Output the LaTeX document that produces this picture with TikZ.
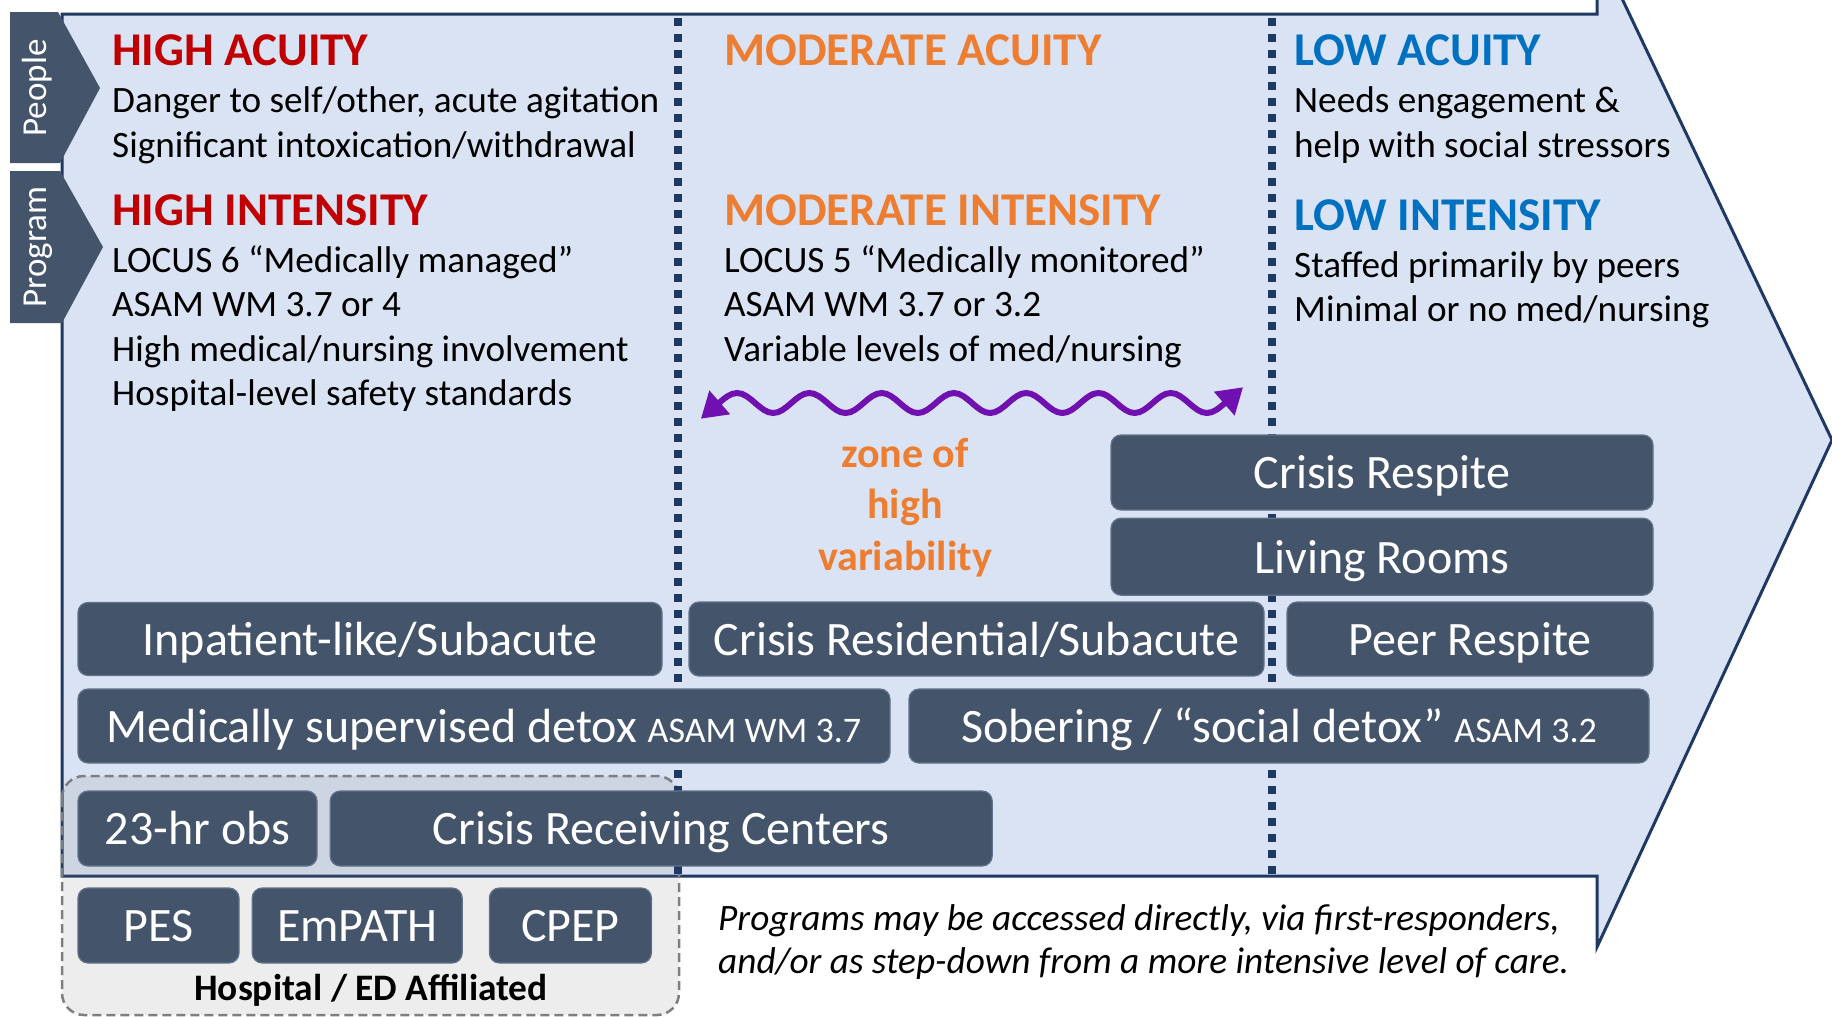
\documentclass[tikz,border=0pt]{standalone}
\usepackage{fontspec}
\setmainfont{Carlito}
\usepackage{tikz}
\usetikzlibrary{arrows.meta,positioning}
\definecolor{cBody}{HTML}{DAE3F3}
\definecolor{cNavy}{HTML}{203864}
\definecolor{cSlate}{HTML}{44546A}
\definecolor{cSlateEdge}{HTML}{62728A}
\definecolor{cHigh}{HTML}{C00000}
\definecolor{cMod}{HTML}{ED7D31}
\definecolor{cLow}{HTML}{0070C0}
\definecolor{cWave}{HTML}{7010B0}
\definecolor{cHosp}{HTML}{7F7F7F}
\newcommand{\fs}[2]{\fontsize{#1}{#2}\selectfont}
\newcommand{\asam}[1]{{\fs{36}{40}#1}}
\tikzset{
  head/.style={anchor=base west, inner sep=0pt, font=\fs{47}{56}\bfseries},
  % multi-line text: the base anchor sits on the last line
  txt/.style={anchor=base west, inner sep=0pt, align=left, font=\fs{37.2}{44.5}},
  prog/.style={rounded corners=10pt, fill=cSlate, draw=cSlateEdge, line width=1.2pt,
               text=white, font=\fs{48}{56}, inner sep=0pt,
               text height=32.6pt, text depth=0pt},
  tab/.style={fill=cSlate},
  tablbl/.style={text=white, rotate=90, font=\fs{35}{40}, inner sep=0pt},
  divider/.style={draw=cNavy, line width=8pt, dash pattern=on 8pt off 8pt},
  hosp/.style={draw=cHosp, line width=2.5pt, dash pattern=on 9pt off 5pt,
               fill=cHosp, fill opacity=0.14, rounded corners=22pt},
  wave/.style={draw=cWave, line width=6pt, <->, >={Triangle[length=25pt,width=30pt]},
               shorten <=-24pt, shorten >=-24pt},
  zone/.style={text=cMod, font=\fs{42}{51.5}\bfseries, align=center, inner sep=0pt,
               anchor=base},
  note/.style={anchor=base west, inner sep=0pt, align=left, font=\fs{37.3}{43}\itshape},
}

\begin{document}
\begin{tikzpicture}[x=1pt, y=-1pt, node distance=7pt and 12pt]
  \useasboundingbox (0,0) rectangle (1832,1017);
  \clip (0,0) rectangle (1832,1017);

  % big arrow and the hospital group behind everything
  \draw[cNavy, line width=3pt, fill=cBody]
    (62,14) -- (1597,14) -- (1597,-54) -- (1832,440) -- (1597,947)
    -- (1597,876) -- (62,876) -- cycle;
  \draw[hosp] (62,776) rectangle (679,1015);
  \draw[divider] (678,18) -- (678,876);
  \draw[divider] (1272,18) -- (1272,876);

  \fill[tab] (10,12) -- (58,12) -- (100,88) -- (60,163) -- (10,163) -- cycle;
  \fill[tab] (10,171) -- (60,171) -- (103,247) -- (62,323) -- (10,323) -- cycle;
  \node[tablbl] (people) at (37,88) {People};
  \node[tablbl] (program) at (38,247) {Program};

  \node[head, text=cHigh] (hiAcu) at (112,65) {HIGH ACUITY};
  \node[txt, below=92pt of hiAcu.base west, anchor=base west] (hiAcuTxt)
    {Danger to self/other, acute agitation\\Significant intoxication/withdrawal};
  \node[head, text=cHigh] (hiInt) at (112,225) {HIGH INTENSITY};
  \node[txt, below=180.5pt of hiInt.base west, anchor=base west] (hiIntTxt)
    {LOCUS 6 “Medically managed”\\ASAM WM 3.7 or 4\\High medical/nursing involvement\\Hospital-level safety standards};

  \node[head, text=cMod] (moAcu) at (724,65) {MODERATE ACUITY};
  \node[head, text=cMod] (moInt) at (724,225) {MODERATE INTENSITY};
  \node[txt, below=136pt of moInt.base west, anchor=base west] (moIntTxt)
    {LOCUS 5 “Medically monitored”\\ASAM WM 3.7 or 3.2\\Variable levels of med/nursing};

  \node[head, text=cLow] (loAcu) at (1294,65) {LOW ACUITY};
  \node[txt, below=92pt of loAcu.base west, anchor=base west] (loAcuTxt)
    {Needs engagement \&\\help with social stressors};
  \node[head, text=cLow] (loInt) at (1294,230) {LOW INTENSITY};
  \node[txt, below=91.5pt of loInt.base west, anchor=base west] (loIntTxt)
    {Staffed primarily by peers\\Minimal or no med/nursing};

  \coordinate (waveL) at (719,403);
  \draw[wave] (waveL) \foreach \k in {1,...,7}
    { sin ++(18.07,-10) cos ++(18.07,10) sin ++(18.07,10) cos ++(18.07,-10) };
  \node[zone] (zoneLbl) at (905,570) {zone of\\high\\variability};

  % program boxes, top row first
  \node[prog, minimum width=542pt, minimum height=75pt] (respite) at (1382,472.5) {Crisis Respite};
  \node[prog, minimum width=542pt, minimum height=77pt, below=7pt of respite] (living) {Living Rooms};
  \node[prog, minimum width=584pt, minimum height=73pt] (inpat) at (370,639) {Inpatient-like/Subacute};
  \node[prog, minimum width=575pt, minimum height=74pt] (resid) at (976.5,639) {Crisis Residential/Subacute};
  \node[prog, minimum width=366pt, minimum height=74pt] (peer) at (1470,639) {Peer Respite};
  \node[prog, minimum width=812pt, minimum height=74pt] (detox) at (484,726)
    {Medically supervised detox \asam{ASAM WM 3.7}};
  \node[prog, minimum width=740pt, minimum height=74pt] (sober) at (1279,726)
    {Sobering / “social detox” \asam{ASAM 3.2}};
  \node[prog, minimum width=239pt, minimum height=75pt] (obs) at (197.5,828.5) {23-hr obs};
  \node[prog, minimum width=662pt, minimum height=75pt, right=12pt of obs] (crc) {Crisis Receiving Centers};
  \node[prog, minimum width=161pt, minimum height=75pt] (pes) at (158.5,925.5) {PES};
  \node[prog, minimum width=210pt, minimum height=75pt, right=12pt of pes] (empath) {EmPATH};
  \node[prog, minimum width=162pt, minimum height=75pt, right=26pt of empath] (cpep) {CPEP};
  \node[font=\fs{37.4}{40}\bfseries, anchor=base, inner sep=0pt] (hospLbl) at (371,1000)
    {Hospital / ED Affiliated};

  \node[note] (access) at (718,973)
    {Programs may be accessed directly, via first-responders,\\and/or as step-down from a more intensive level of care.};
\end{tikzpicture}
\end{document}
